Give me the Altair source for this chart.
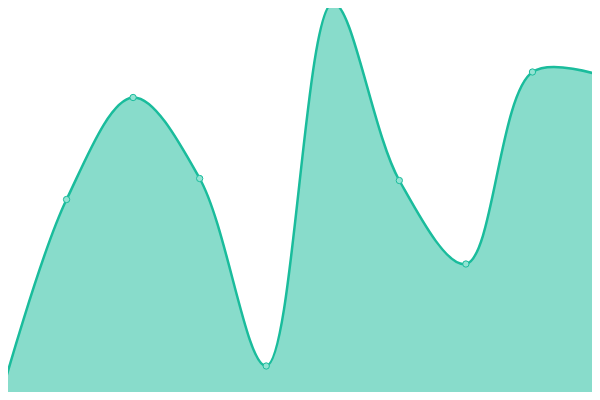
import altair as alt
import pandas as pd

idx = [0, 1, 2, 3, 4, 5, 6, 7, 8, 9]
values = [1, 200.5, 302.5, 221.5, 34, 397, 219.5, 136, 328, 325]

df = pd.DataFrame({"i": idx, "v": values})

x = alt.X("i:Q", axis=None, scale=alt.Scale(domain=[0, 9], range=[0, 599], nice=False, zero=False))
y = alt.Y("v:Q", axis=None, scale=alt.Scale(domain=[0, 400], nice=False))

base = alt.Chart(df)
area = base.mark_area(
    interpolate="catmull-rom", color="#1abc9c", opacity=0.52,
    line={"color": "#1abc9c", "strokeWidth": 2.5, "opacity": 1},
).encode(x=x, y=y)
pts = base.mark_point(
    filled=True, size=40, fill="#93e3d3", stroke="#1abc9c", strokeWidth=1, opacity=1
).encode(x=x, y=y)

chart = (area + pts).properties(
    width=600, height=400,
    autosize=alt.AutoSizeParams(type="none"),
    padding={"left": -8, "top": -8, "right": -8, "bottom": -8},
).configure_view(stroke=None)

chart.save("out.html", embed_options={"renderer": "svg", "actions": False})
